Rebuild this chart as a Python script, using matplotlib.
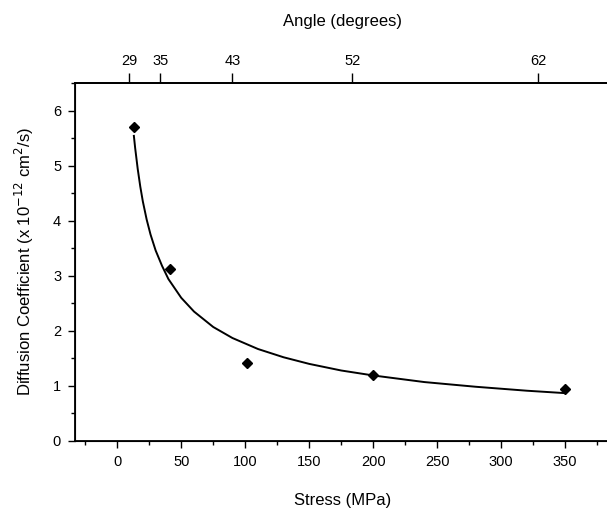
import matplotlib.pyplot as plt
from matplotlib.ticker import MultipleLocator

plt.rcParams['font.family'] = ['Liberation Sans', 'DejaVu Sans']

# measured points
stress = [13, 41, 101, 200, 350]
diffusion = [5.70, 3.13, 1.42, 1.19, 0.95]

# fitted curve
fit_stress = [13, 14, 16, 18, 20, 23, 26, 30, 35, 40, 50, 60, 75, 90, 110, 130,
              150, 175, 200, 240, 280, 320, 350]
fit_diff = [5.54, 5.32, 4.94, 4.62, 4.35, 4.02, 3.75, 3.46, 3.18, 2.94, 2.60, 2.35,
            2.07, 1.87, 1.67, 1.52, 1.40, 1.28, 1.19, 1.07, 0.985, 0.913, 0.869]

# top axis: angle labels at their stress positions
angle_pos = [9.4, 33.6, 90, 183.6, 329]
angle_labels = ['29', '35', '43', '52', '62']

fig = plt.figure(figsize=(6.07, 5.14), dpi=100)
ax = fig.add_axes([75 / 607, 73 / 514, 535 / 607, 358 / 514])

ax.plot(fit_stress, fit_diff, color='black', lw=1.4)
ax.plot(stress, diffusion, 'D', color='black', ms=5)

ax.set_xlim(-33, 385)
ax.set_ylim(0, 6.5)
ax.xaxis.set_major_locator(MultipleLocator(50))
ax.xaxis.set_minor_locator(MultipleLocator(25))
ax.yaxis.set_major_locator(MultipleLocator(1))
ax.yaxis.set_minor_locator(MultipleLocator(0.5))
ax.set_xticks(range(0, 351, 50))
ax.tick_params(which='major', direction='out', length=5, width=1, labelsize=10.5, pad=5)
ax.tick_params(which='minor', direction='out', length=3, width=1)
for s in ax.spines.values():
    s.set_linewidth(1.3)
ax.spines['right'].set_visible(False)

ax.set_xlabel('Stress (MPa)', fontsize=12, labelpad=17)
ax.set_ylabel('Diffusion Coefficient (x 10$^{-12}$ cm$^2$/s)', fontsize=12, labelpad=12)

ax2 = ax.twiny()
ax2.set_xlim(ax.get_xlim())
ax2.set_xticks(angle_pos)
ax2.set_xticklabels(angle_labels)
ax2.tick_params(direction='out', length=7, width=1, labelsize=10.5, pad=4)
ax2.spines['right'].set_visible(False)
ax2.spines['top'].set_linewidth(1.3)
ax2.set_xlabel('Angle (degrees)', fontsize=12, labelpad=20)

fig.savefig('out.png', dpi=100)
